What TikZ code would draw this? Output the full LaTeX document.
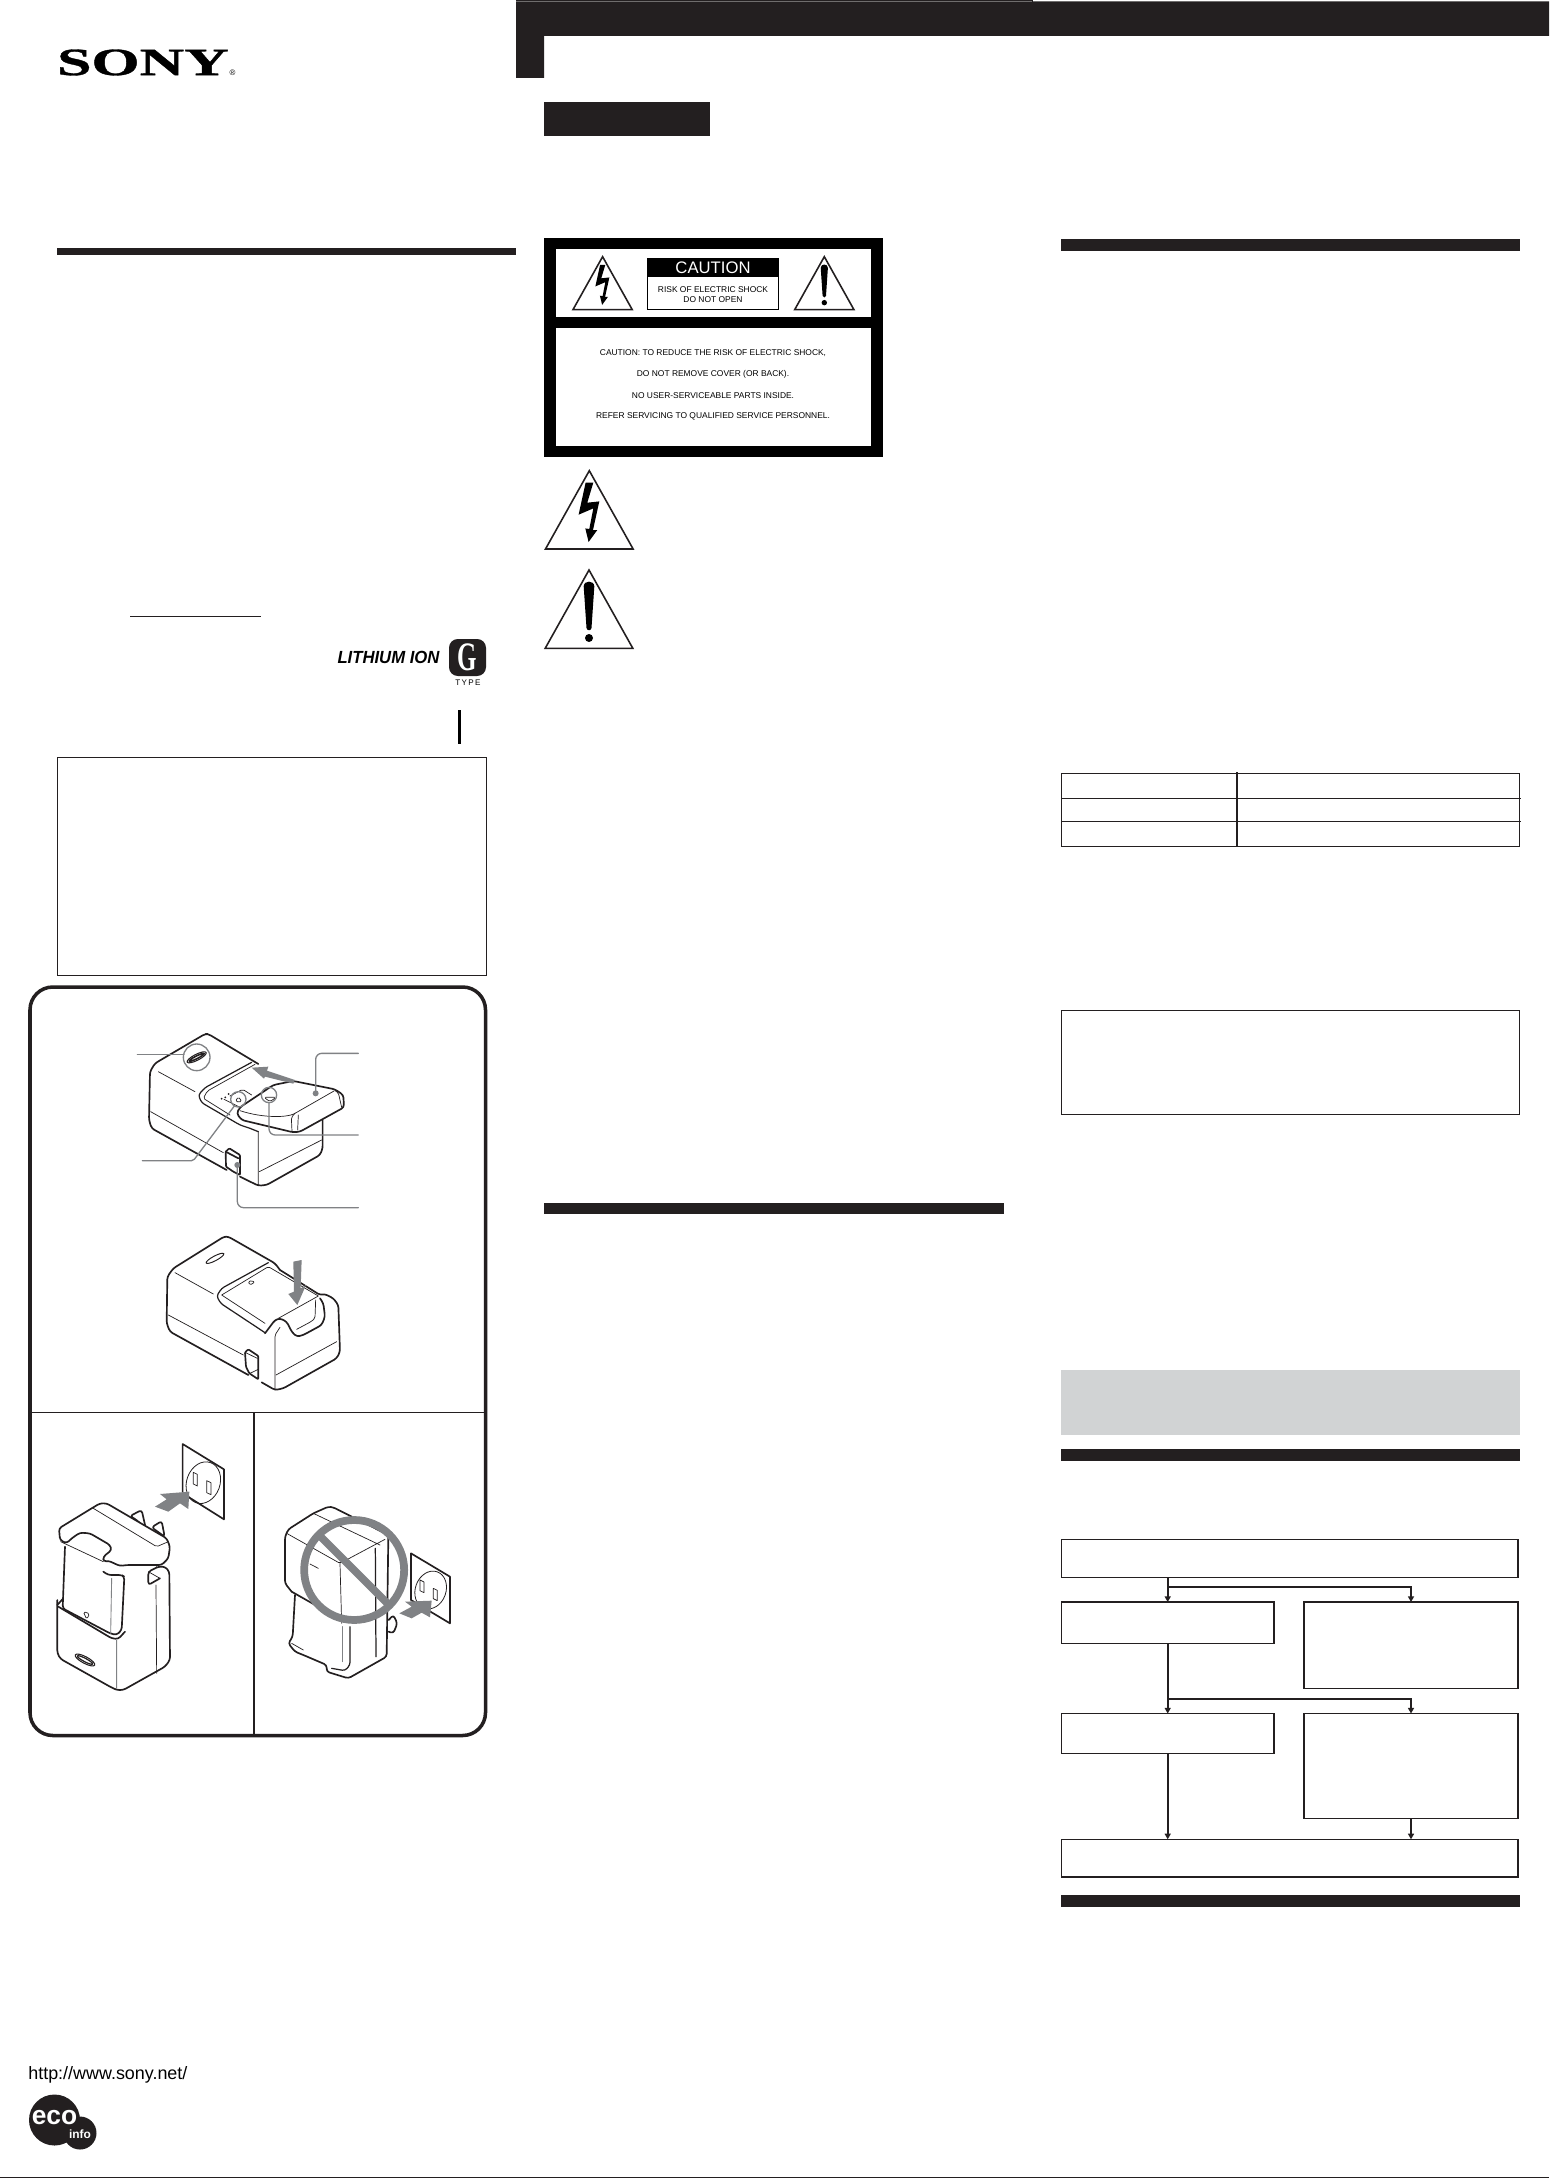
\documentclass[tikz,border=0pt]{standalone}
\usepackage{fontspec}
\setmainfont{Liberation Sans}
\newfontfamily\logofont{Liberation Serif}
\newfontfamily\heavylogofont[FakeBold=0.8]{Liberation Serif Bold}
\usetikzlibrary{arrows.meta}
\usetikzlibrary{positioning}
\definecolor{ink}{HTML}{231F20}
\definecolor{panelgray}{HTML}{D1D3D4}
\definecolor{markgray}{HTML}{808285}
\newcommand{\px}{0.02cm}

\tikzset{
	warnbolt/.pic={
		\draw[ink,line width=0.9pt,line join=miter,fill=white] (0,0) -- (43.8,78.3) -- (-43.8,78.3) -- cycle;
		\fill[black] (-3.7,12) -- (4,12) -- (-2,32) -- (10,30.7) -- (3.7,59.3) -- (8,59.3) -- (-0.7,71.3) -- (-4,57.7) -- (0,58.3) -- (4,37.7) -- (-10.7,44) -- cycle;
	},
	warnmark/.pic={
		\draw[ink,line width=0.9pt,line join=miter,fill=white] (0,0) -- (43.8,78.3) -- (-43.8,78.3) -- cycle;
		\fill[black] (-5.3,16.5) .. controls (-5.3,10) and (5.3,10) .. (5.3,16.5) -- (2.5,58) .. controls (2,61) and (-2,61) .. (-2.5,58) -- cycle;
		\fill[black] (0,68) circle (4);
	}
}

\begin{document}
\begin{tikzpicture}
	[
	x=0.02cm,y=-0.02cm,
	font=\fontsize{4.8}{5.5}\selectfont
	]
	
	% Looks of the sheet
	\tikzstyle{flowbox}=[draw=ink,line width=0.65pt,inner sep=0,outer sep=0,anchor=north west];
	\tikzstyle{flowline}=[draw=ink,line width=1.3pt,-{Triangle[width=3.4pt,length=3.2pt]}];
	\tikzstyle{blackbar}=[fill=ink,draw=none];
	\tikzstyle{zoomed}=[x=0.0066667cm,y=-0.0066667cm,line join=round,line cap=round];
	\tikzstyle{outline}=[draw=ink,line width=0.95pt,rounded corners=1.6pt];
	\tikzstyle{thinline}=[draw=ink,line width=0.4pt,rounded corners=1pt];
	\tikzstyle{leader}=[draw=markgray,line width=0.75pt,rounded corners=3.5pt];
	\tikzstyle{graymark}=[fill=markgray,draw=none];
	
	\useasboundingbox (0,0) rectangle (1549,2179);
	\fill[white] (0,0) rectangle (1549,2179);
	
	% Bars and panels
	\fill[blackbar] (516,1.3) -- (1549,1.3) -- (1549,36) -- (544,36) -- (544,78) -- (516,78) -- cycle;
	\draw[ink,line width=0.25pt] (516,0.3) -- (1032,0.3) (1032,0) -- (1032,2);
	\fill[blackbar] (544,102) rectangle (709.5,136);
	\fill[blackbar] (57,248) rectangle (516,255);
	\fill[blackbar] (543.5,1203) rectangle (1003.5,1214);
	\draw[ink,line width=0.5pt] (0,2177.7) -- (1549,2177.7);
	
	% Logos
	\node[inner sep=0] (sonylogo) at (143,62.5) {\heavylogofont\fontsize{22}{24}\selectfont\scalebox{1.6}[1]{SONY}};
	\node[inner sep=0,font=\fontsize{4.5}{5}\selectfont] (sonyreg) at (232.5,73) {®};
	\draw[ink,line width=0.35pt] (130,616.5) -- (261,616.5);
	\node[font=\bfseries\itshape\fontsize{10}{12}\selectfont] (lithium) at (388.5,657.5) {\scalebox{0.95}[1]{LITHIUM ION}};
	\fill[ink,rounded corners=5pt] (449,639) rectangle (486,676);
	\node[white,font=\logofont\bfseries\fontsize{23}{24}\selectfont] (gletter) at (467.5,657.5) {\scalebox{0.62}[1]{G}};
	\node[font=\fontsize{4.6}{5}\selectfont] (gtype) at (468,682.5) {T\,Y\,P\,E};
	\draw[black,line width=1.6pt] (459.5,710) -- (459.5,744);
	\node[anchor=base west,inner sep=0,font=\fontsize{10.2}{12}\selectfont] (weblink) at (28,2079) {http://www.sony.net/};
	\fill[ink] (54.5,2120) circle (25.5) (80,2133) circle (16.5);
	\node[white,inner sep=0,font=\bfseries\fontsize{15}{16}\selectfont] (ecoword) at (54.5,2118) {eco};
	\node[white,inner sep=0,font=\bfseries\fontsize{6.8}{8}\selectfont] (ecoinfo) at (80,2134) {info};
	
	% Notice box under the title
	\draw[ink,line width=0.5pt] (57.5,757.5) rectangle (486.5,975.5);
	
	% Caution plate
	\fill[black] (544.3,237.7) rectangle (882.5,457);
	\fill[white] (555.7,249) rectangle (870.9,317.3);
	\fill[white] (555.7,328.3) rectangle (870.9,445.7);
	\pic[scale=0.676] at (602.6,256.7) {warnbolt};
	\pic[scale=0.676] at (824.3,256.7) {warnmark};
	\draw[black,line width=0.5pt] (647.3,258) rectangle (778.7,309.7);
	\fill[black] (647.3,258) rectangle (778.7,277.3);
	\node[white,inner sep=0,font=\fontsize{9.5}{11}\selectfont] (plateword) at (713,268) {CAUTION};
	\node[inner sep=0] (platerisk) at (713,289.3) {RISK OF ELECTRIC SHOCK};
	\node[inner sep=0] (plateopen) at (713,299.3) {DO NOT OPEN};
	\node[inner sep=0] (plateone) at (713,353.3) {CAUTION: TO REDUCE THE RISK OF ELECTRIC SHOCK,};
	\node[inner sep=0] (platetwo) at (713,374.3) {DO NOT REMOVE COVER (OR BACK).};
	\node[inner sep=0] (platethree) at (713,395.3) {NO USER-SERVICEABLE PARTS INSIDE.};
	\node[inner sep=0] (platefour) at (713,416.3) {REFER SERVICING TO QUALIFIED SERVICE PERSONNEL.};
	\pic at (589.3,470.7) {warnbolt};
	\pic at (589,570) {warnmark};
	
	\begin{scope}[shift={(0.7,0)}]
		% Right column bars
		\fill[blackbar] (1060,239.5) rectangle (1519,251);
		\fill[panelgray] (1060,1370) rectangle (1519,1435);
		\fill[blackbar] (1060,1449) rectangle (1519,1461);
		\fill[blackbar] (1060,1895) rectangle (1519,1906.5);
		
		% Table and note box
		\draw[ink,line width=0.65pt] (1060.7,773.3) rectangle (1518.7,846.7);
		\foreach \y in {798.3, 821.3} \draw[ink,line width=0.65pt] (1060.7,\y) -- (1519.8,\y);
		\draw[ink,line width=0.65pt] (1236.3,772) -- (1236.3,846.7);
		\draw[ink,line width=0.65pt] (1060.7,1010.7) rectangle (1518.7,1114.3);
		
		% The flow chart
		\node[flowbox,minimum width=456.6*\px,minimum height=38.4*\px] (chartstart) at (1060.7,1539.3) {};
		\node[flowbox,minimum width=212.6*\px,minimum height=41.7*\px] (firstleft) at (1060.7,1602) {};
		\node[flowbox,minimum width=214*\px,minimum height=86.4*\px] (firstright) at (1303.3,1602) {};
		\node[flowbox,minimum width=212.6*\px,minimum height=39.8*\px] (nextleft) at (1060.7,1713.5) {};
		\node[flowbox,minimum width=214*\px,minimum height=104.8*\px] (nextright) at (1303.3,1713.5) {};
		\node[flowbox,minimum width=456.6*\px,minimum height=37.7*\px] (chartend) at (1060.7,1839.3) {};
		\coordinate (forkone) at (1167,1587.3);
		\coordinate (forktwo) at (1167,1699);
		\draw[flowline] (chartstart.south -| firstleft.north) -- (firstleft.north);
		\draw[flowline] (forkone) -| (firstright.north);
		\draw[flowline] (firstleft.south) -- (nextleft.north);
		\draw[flowline] (forktwo) -| (nextright.north);
		\draw[flowline] (nextleft.south) -- (chartend.north -| nextleft.south);
		\draw[flowline] (nextright.south) -- (chartend.north -| nextright.south);
	\end{scope}
	
	% Frame round the charger pictures
	\draw[ink,line width=2pt,rounded corners=13pt] (30,987) rectangle (485.5,1735.5);
	\draw[ink,line width=0.7pt] (30,1412.5) -- (485.5,1412.5);
	\draw[ink,line width=1pt] (253.7,1412.5) -- (253.7,1735.5);
	
	% Charger with the battery going in
	\begin{scope}[shift={(130,1020)},zoomed]
		\draw[outline] (385,132) -- (235,42) -- (225,42) -- (75,130) -- (60,155) -- (57,300) -- (65,325) -- (290,450);
		\draw[outline] (330,470) -- (385,497) -- (410,495) -- (570,405) -- (578,385) -- (578,300);
		\draw[thinline] (85,155) -- (195,215) (62,275) -- (280,398) (388,455) -- (575,360) (385,335) -- (385,495);
		\draw[outline,line width=0.7pt] (365,127) -- (225,203) -- (205,225) -- (215,248) -- (330,315) -- (360,325);
		\draw[thinline] (375,133) -- (232,213) -- (220,235) -- (300,285);
		\draw[outline,line width=0.7pt] (385,335) -- (360,325);
		\draw[thinline] (300,228) -- (338,208) -- (365,225) (282,238) -- (330,262) (325,230) -- (336,245) -- (316,245) -- cycle;
		\foreach \a/\b in {296/222, 286/232, 275/236} \fill[ink] (\a,\b) circle (3);
		\draw[ink,line width=0.6pt,rotate around={27:(200,112)}] (200,112) ellipse [x radius=32,y radius=9];
		\draw[ink,line width=0.9pt,rotate around={27:(200,112)}] (200,112) ellipse [x radius=25,y radius=4];
		% Cord slot
		\draw[outline,rounded corners=0.5pt,fill=white] (287,395) -- (298,385) -- (330,405) -- (330,465) -- (310,455) -- (288,440) -- cycle;
		\draw[outline] (287,395) -- (325,415);
		% Battery
		\draw[outline,fill=white] (330,262) -- (430,195) -- (490,183) -- (615,208) -- (640,225) -- (642,262) -- (510,335) -- (490,337) -- (440,325) -- (335,300) -- (320,280) -- cycle;
		\draw[thinline] (330,272) .. controls (400,295) and (470,292) .. (495,280) -- (612,213);
		\draw[thinline] (495,280) -- (484,292) -- (486,333) (505,285) -- (503,330) (615,212) -- (625,218) -- (635,262);
		\draw[thinline] (402,232) -- (438,232) -- (420,245) -- cycle;
		\fill[graymark] (365,143) -- (415,140) -- (411,152) -- (495,180) -- (490,191) -- (405,170) -- (402,176) -- cycle;
		% Leaders
		\draw[markgray,line width=0.75pt] (200,112) circle (40) (325,238) circle (23) (417,225) circle (23);
		\draw[leader] (22,104) -- (162,104);
		\fill[graymark] (557,220) circle (9) (322,435) circle (9);
		\draw[leader] (685,100) -- (557,100) -- (557,220);
		\draw[leader] (685,345) -- (417,345) -- (417,247);
		\draw[leader] (685,563) -- (322,563) -- (322,435);
		\draw[leader,rounded corners=1pt] (37,422) -- (190,422) -- (313,258);
	\end{scope}
	
	% Charger with the battery seated
	\begin{scope}[shift={(150,1220)},zoomed]
		\draw[outline] (390,150) -- (375,130) -- (235,50) -- (222,50) -- (70,145) -- (52,170) -- (50,310) -- (60,335) -- (295,465);
		\draw[outline] (335,487) -- (375,510) -- (400,505) -- (560,415) -- (570,395) -- (565,255) -- (550,235) -- (525,222) -- (510,225) -- (390,150);
		\draw[outline] (345,340) -- (375,300) -- (390,295) -- (410,305) -- (425,335) -- (440,350) -- (460,345) -- (515,315) -- (525,290) -- (520,250) -- (510,235);
		\draw[thinline] (390,322) -- (375,345) -- (375,510);
		\draw[thinline] (215,225) -- (355,140) -- (505,228) (385,295) -- (505,228) (215,225) -- (345,310);
		\draw[thinline] (497,240) -- (495,295) -- (483,305) -- (440,328);
		\draw[outline,line width=0.7pt] (355,128) -- (215,205) -- (200,228) -- (212,250) -- (345,338);
		\draw[thinline] (55,285) -- (280,405) (378,465) -- (560,365) (75,158) -- (190,222);
		\draw[ink,line width=0.55pt,rotate around={28:(195,115)}] (195,115) ellipse [x radius=30,y radius=7];
		\draw[thinline] (295,182) -- (316,185) -- (299,196) -- cycle;
		\draw[outline,rounded corners=0.5pt,fill=white] (285,397) -- (295,388) -- (325,408) -- (325,478) -- (298,460) -- (288,440) -- cycle;
		\draw[thinline] (300,460) -- (325,448) (285,397) -- (322,415);
		\fill[graymark] (430,125) -- (455,120) -- (452,205) -- (468,195) -- (442,255) -- (415,222) -- (432,215) -- cycle;
	\end{scope}
	
	% Charger plugged into the wall
	\begin{scope}[shift={(40,1440)},zoomed]
		\draw[outline,fill=white] (270,228) -- (305,210) -- (318,268) -- (290,240) -- cycle;
		\draw[outline,fill=white] (335,262) -- (365,243) -- (374,290) -- cycle;
		\draw[outline] (52,480) -- (52,640) -- (62,657) -- (210,740) -- (230,750) -- (250,750) -- (375,680) -- (390,660) -- (388,395) -- (375,380) -- (355,380) -- (325,395) -- (325,435) -- (360,415);
		\draw[outline] (52,495) -- (70,475);
		\draw[outline] (55,500) -- (215,595) -- (235,597) -- (255,575);
		\draw[outline] (75,320) -- (68,505) -- (210,580) -- (230,585) -- (245,570) -- (253,410) -- (245,405) -- (205,405) -- (190,395);
		\draw[markgray,line width=0.5pt] (215,415) -- (212,580) (230,600) -- (230,745);
		\draw[thinline] (348,435) -- (350,700) (345,320) -- (350,380) (325,395) -- (360,415);
		\draw[outline,fill=white] (57,265) -- (155,205) -- (180,190) -- (200,190) -- (380,295) -- (390,320) -- (385,355) -- (365,375) -- (260,375) -- (240,378) -- (205,362) -- (190,365) -- (190,350) -- (215,330) -- (210,315) -- (150,280) -- (120,278) -- (95,295) -- (80,310) -- (60,300) -- cycle;
		\draw[thinline] (160,205) -- (350,320) -- (385,305) (62,305) -- (190,365);
		\draw[thinline] (130,515) -- (149,521) -- (140,538) -- cycle;
		\draw[ink,line width=0.6pt,rotate around={-28:(135,660)}] (135,660) ellipse [x radius=33,y radius=10];
		\draw[ink,line width=0.7pt,rotate around={-28:(135,660)}] (135,660) ellipse [x radius=26,y radius=5];
		% Wall socket
		\draw[outline,rounded corners=0pt] (428,12) -- (552,88) -- (552,238) -- (428,160) -- cycle;
		\draw[ink,line width=0.45pt,rotate around={-20:(490,128)}] (490,128) ellipse [x radius=50,y radius=64];
		\draw[thinline,rounded corners=0pt] (460,97) -- (472,103) -- (472,138) -- (460,132) -- cycle (500,122) -- (513,128) -- (513,164) -- (500,158) -- cycle;
		\fill[graymark] (345,200) -- (380,178) -- (360,162) -- (448,155) -- (445,207) -- (420,190) -- (385,215) -- cycle;
	\end{scope}
	
	% Charger held the wrong way
	\begin{scope}[shift={(270,1480)},zoomed]
		\draw[outline,fill=white] (356,420) -- (370,405) -- (382,430) -- (370,460) -- (356,455);
		\draw[outline] (355,170) -- (345,160) -- (190,82) -- (175,80) -- (130,100) -- (55,148) -- (45,170) -- (45,310) -- (65,335);
		\draw[outline] (75,345) -- (68,470) -- (55,490) -- (75,515) -- (100,525) -- (170,555) -- (170,575) -- (235,595) -- (350,530) -- (355,170);
		\draw[thinline] (50,160) -- (210,250) -- (345,178) (210,250) -- (215,430) (130,100) -- (330,195);
		\draw[outline,line width=0.7pt] (316,205) -- (318,530);
		\draw[outline] (65,335) -- (215,420);
		\draw[markgray,line width=0.5pt] (218,440) -- (218,545);
		\draw[outline,line width=0.7pt] (240,440) -- (240,555) -- (225,572) -- (185,565);
		\draw[thinline] (65,490) -- (100,510) (120,252) -- (145,265);
		\draw[outline,rounded corners=0pt] (423,220) -- (540,290) -- (540,430) -- (423,360) -- cycle;
		\draw[ink,line width=0.45pt,rotate around={-20:(482,330)}] (482,330) ellipse [x radius=46,y radius=58];
		\draw[thinline,rounded corners=0pt] (450,300) -- (462,306) -- (462,338) -- (450,332) -- cycle (490,325) -- (502,331) -- (502,362) -- (490,356) -- cycle;
		\fill[graymark] (388,400) -- (425,380) -- (405,365) -- (485,362) -- (480,412) -- (455,398) -- (425,415) -- cycle;
		% Prohibition sign
		\draw[markgray,line width=4.4pt] (252.5,270) circle (150);
		\draw[markgray,line width=4.4pt,line cap=butt] (146,164) -- (358,376);
	\end{scope}
\end{tikzpicture}
\end{document}
